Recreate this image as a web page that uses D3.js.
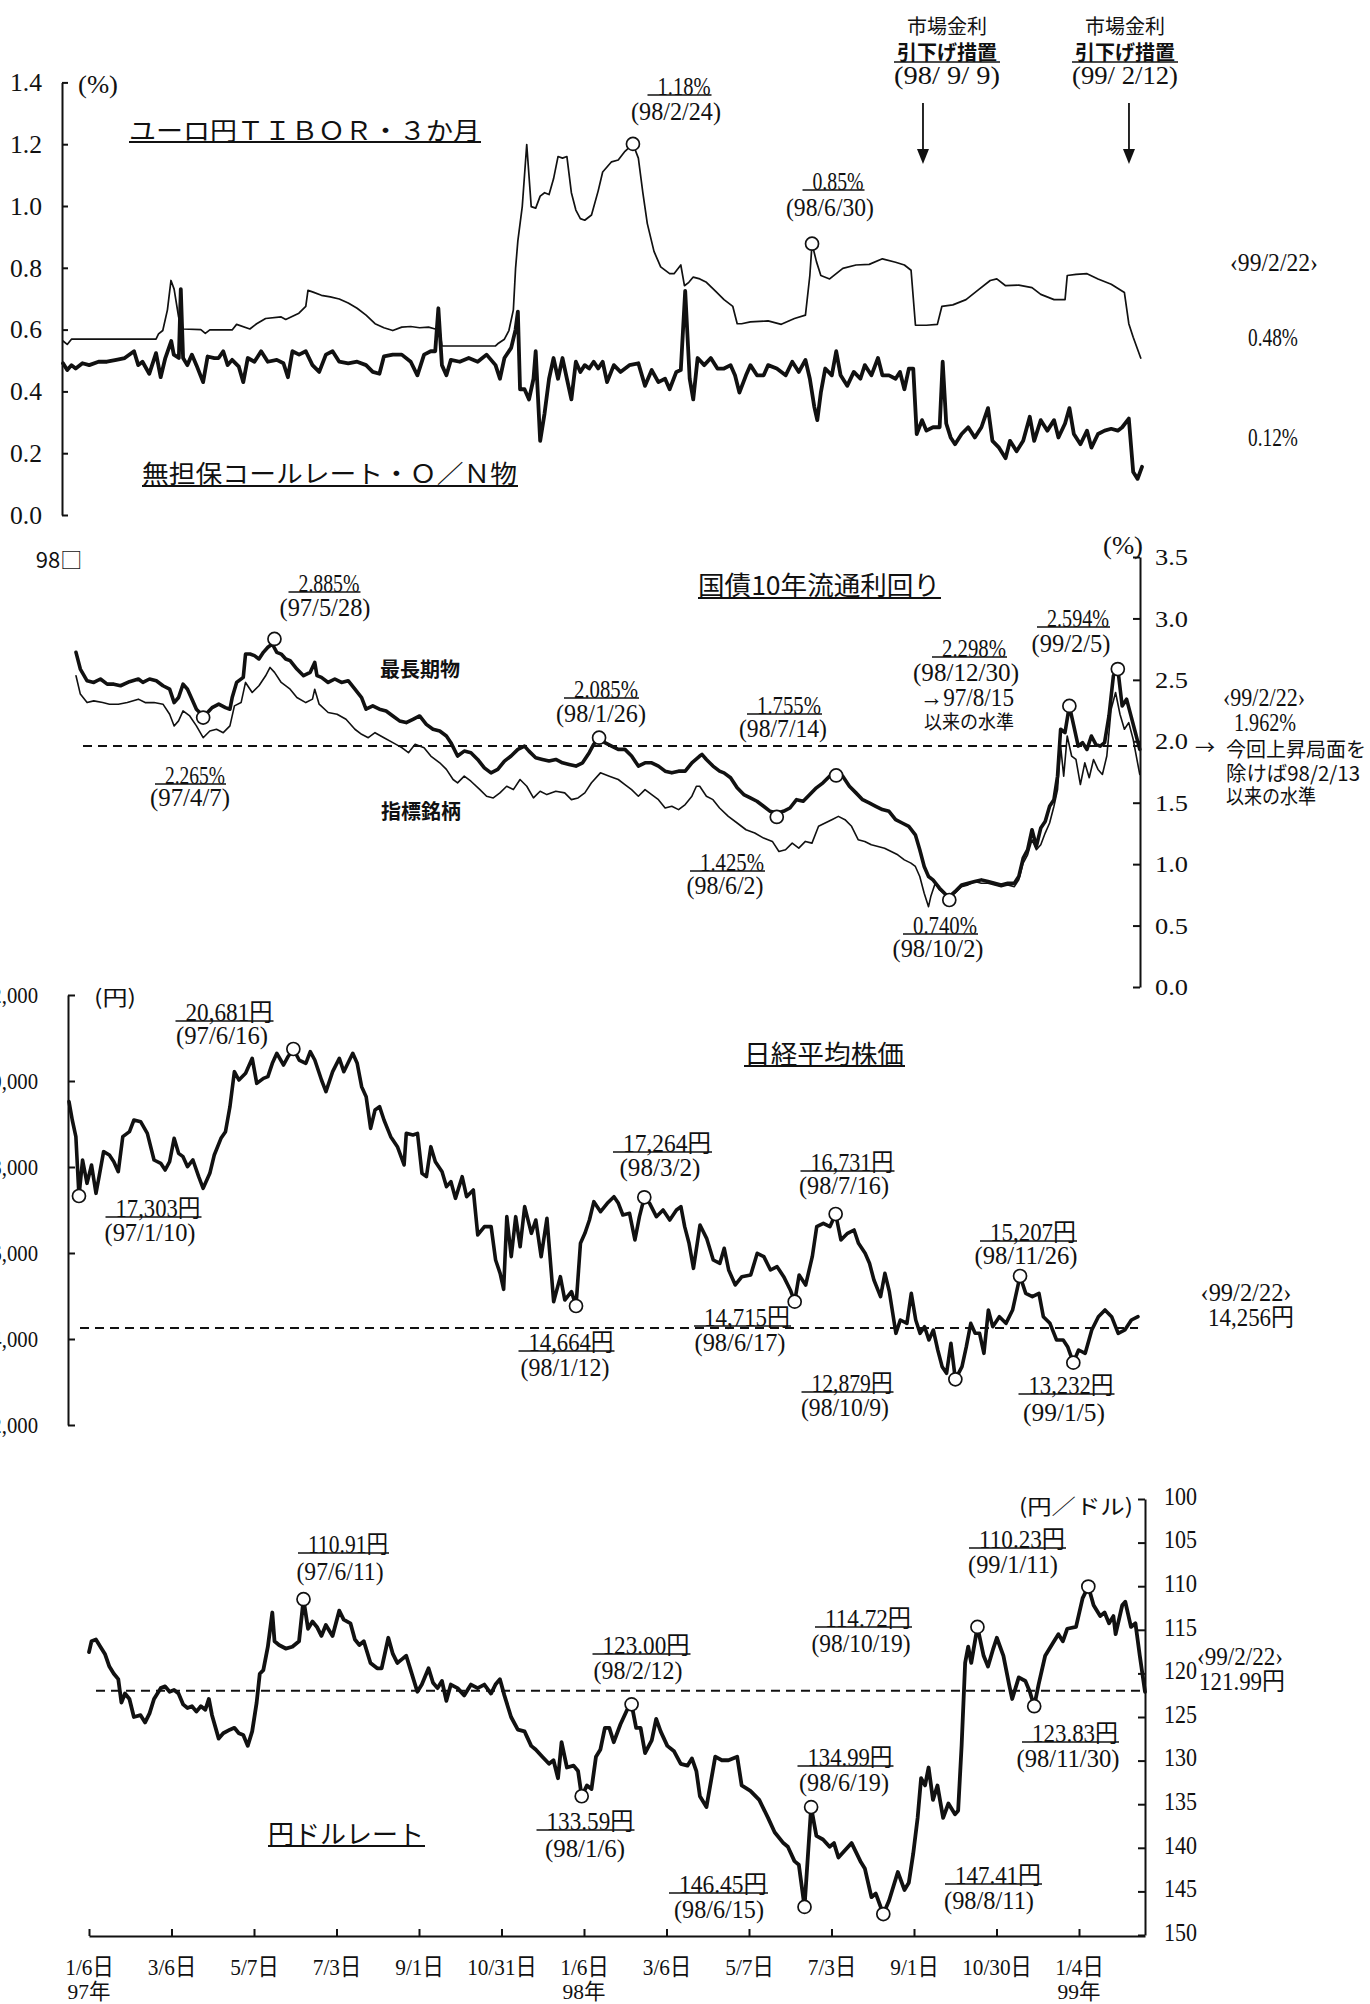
<!DOCTYPE html>
<html><head><meta charset="utf-8">
<script src="https://cdn.jsdelivr.net/npm/d3@7"></script>
<style>html,body{margin:0;padding:0;background:#fff;}svg{display:block;}</style>
</head><body>
<svg id="chart" width="1370" height="2004"></svg>
<script>
// ===== DATA (t = position on the chart's time axis, in 2-month tick steps from 97/1/6) =====
const tickLabels = ["1/6日","3/6日","5/7日","7/3日","9/1日","10/31日","1/6日","3/6日","5/7日","7/3日","9/1日","10/30日","1/4日"];
const tickPeriods = [0,1,2,3,4,5,6,7,8,9,10,11,12];
const yearLabels = [{t:0,s:"97年"},{t:6,s:"98年"},{t:12,s:"99年"}];

const tiborData = [[0,0.563],[0.05,0.552],[0.1,0.569],[1.1,0.569],[1.13,0.586],[1.18,0.597],[1.235,0.664],[1.277,0.759],[1.314,0.731],[1.367,0.641],[1.42,0.602],[1.63,0.6],[1.683,0.588],[1.736,0.599],[2.0,0.599],[2.053,0.617],[2.21,0.602],[2.29,0.619],[2.396,0.636],[2.58,0.641],[2.634,0.633],[2.79,0.653],[2.871,0.675],[2.897,0.727],[2.95,0.722],[3.056,0.711],[3.161,0.706],[3.267,0.699],[3.373,0.686],[3.478,0.669],[3.584,0.647],[3.69,0.619],[3.795,0.606],[3.9,0.597],[4.006,0.608],[4.112,0.61],[4.217,0.606],[4.323,0.608],[4.402,0.602],[4.455,0.6],[4.481,0.547],[4.534,0.547],[5.115,0.547],[5.141,0.554],[5.22,0.569],[5.273,0.597],[5.326,0.664],[5.352,0.798],[5.379,0.887],[5.431,0.998],[5.484,1.199],[5.537,0.998],[5.59,0.993],[5.643,1.032],[5.695,1.043],[5.748,1.037],[5.801,1.088],[5.854,1.16],[5.907,1.155],[5.959,1.16],[6.012,1.043],[6.065,0.987],[6.118,0.959],[6.17,0.954],[6.25,0.971],[6.329,1.049],[6.382,1.11],[6.487,1.143],[6.566,1.149],[6.646,1.177],[6.74,1.201],[6.804,1.155],[6.857,1.043],[6.91,0.943],[6.989,0.853],[7.068,0.803],[7.174,0.781],[7.226,0.781],[7.306,0.809],[7.349,0.742],[7.401,0.753],[7.453,0.77],[7.531,0.764],[7.609,0.753],[7.713,0.725],[7.817,0.697],[7.921,0.675],[7.973,0.619],[8.025,0.619],[8.129,0.625],[8.338,0.628],[8.494,0.617],[8.65,0.636],[8.78,0.647],[8.832,0.775],[8.858,0.878],[8.91,0.82],[8.962,0.775],[9.066,0.764],[9.222,0.798],[9.378,0.809],[9.534,0.811],[9.69,0.829],[9.846,0.818],[9.95,0.809],[10.029,0.792],[10.081,0.614],[10.21,0.614],[10.34,0.617],[10.393,0.675],[10.523,0.68],[10.679,0.697],[10.835,0.731],[10.965,0.759],[11.043,0.764],[11.147,0.742],[11.303,0.744],[11.459,0.736],[11.563,0.714],[11.72,0.697],[11.85,0.697],[11.876,0.775],[11.98,0.779],[12.11,0.781],[12.24,0.764],[12.396,0.747],[12.552,0.72],[12.604,0.619],[12.656,0.575],[12.745,0.508]];

const callData = [[0,0.491],[0.05,0.469],[0.1,0.485],[0.15,0.474],[0.23,0.491],[0.31,0.485],[0.42,0.496],[0.52,0.496],[0.63,0.502],[0.73,0.508],[0.84,0.53],[0.89,0.485],[0.94,0.496],[1.02,0.457],[1.1,0.524],[1.155,0.446],[1.21,0.508],[1.28,0.563],[1.31,0.519],[1.37,0.508],[1.393,0.731],[1.42,0.508],[1.47,0.485],[1.525,0.519],[1.578,0.485],[1.657,0.43],[1.71,0.513],[1.79,0.508],[1.84,0.508],[1.895,0.53],[1.947,0.485],[2.0,0.502],[2.079,0.48],[2.132,0.43],[2.185,0.508],[2.264,0.496],[2.343,0.53],[2.422,0.496],[2.528,0.502],[2.607,0.491],[2.66,0.446],[2.713,0.53],[2.792,0.519],[2.871,0.53],[2.95,0.485],[3.03,0.463],[3.109,0.519],[3.188,0.53],[3.267,0.496],[3.373,0.491],[3.478,0.496],[3.584,0.485],[3.663,0.463],[3.742,0.457],[3.795,0.513],[3.9,0.519],[4.006,0.519],[4.112,0.496],[4.191,0.452],[4.27,0.519],[4.349,0.53],[4.402,0.53],[4.439,0.669],[4.481,0.485],[4.534,0.452],[4.587,0.502],[4.692,0.496],[4.798,0.508],[4.904,0.496],[5.009,0.519],[5.115,0.485],[5.167,0.441],[5.22,0.508],[5.3,0.541],[5.352,0.6],[5.379,0.658],[5.405,0.407],[5.458,0.407],[5.511,0.374],[5.564,0.441],[5.59,0.53],[5.643,0.24],[5.695,0.329],[5.748,0.441],[5.801,0.508],[5.854,0.441],[5.907,0.508],[5.959,0.441],[6.012,0.374],[6.065,0.496],[6.118,0.463],[6.17,0.485],[6.223,0.474],[6.276,0.496],[6.329,0.474],[6.382,0.496],[6.434,0.43],[6.514,0.485],[6.593,0.463],[6.698,0.485],[6.804,0.491],[6.883,0.418],[6.962,0.469],[7.041,0.43],[7.12,0.441],[7.174,0.407],[7.253,0.463],[7.306,0.469],[7.358,0.725],[7.411,0.441],[7.453,0.374],[7.505,0.508],[7.583,0.485],[7.661,0.508],[7.739,0.474],[7.817,0.474],[7.895,0.485],[7.947,0.452],[7.999,0.396],[8.077,0.452],[8.129,0.485],[8.207,0.452],[8.286,0.452],[8.338,0.485],[8.441,0.474],[8.546,0.452],[8.624,0.496],[8.702,0.463],[8.78,0.502],[8.832,0.441],[8.884,0.351],[8.92,0.307],[8.962,0.396],[9.014,0.474],[9.092,0.452],[9.144,0.53],[9.196,0.452],[9.274,0.418],[9.352,0.463],[9.43,0.441],[9.482,0.485],[9.56,0.452],[9.638,0.508],[9.69,0.452],[9.768,0.452],[9.846,0.441],[9.898,0.463],[9.95,0.407],[10.003,0.474],[10.055,0.474],[10.096,0.262],[10.159,0.307],[10.21,0.273],[10.289,0.284],[10.367,0.284],[10.403,0.496],[10.445,0.296],[10.497,0.251],[10.549,0.229],[10.627,0.262],[10.705,0.284],[10.783,0.251],[10.861,0.284],[10.939,0.346],[10.991,0.24],[11.069,0.218],[11.147,0.184],[11.199,0.24],[11.277,0.206],[11.355,0.24],[11.433,0.318],[11.485,0.24],[11.563,0.307],[11.641,0.273],[11.72,0.307],[11.772,0.251],[11.85,0.296],[11.902,0.346],[11.954,0.262],[12.032,0.229],[12.11,0.273],[12.162,0.218],[12.24,0.262],[12.318,0.273],[12.396,0.279],[12.474,0.273],[12.526,0.284],[12.604,0.312],[12.656,0.139],[12.708,0.117],[12.76,0.156]];

const jgbLongData = [[0,2.724],[0.052,2.588],[0.133,2.492],[0.213,2.479],[0.293,2.507],[0.374,2.465],[0.454,2.465],[0.534,2.452],[0.641,2.485],[0.748,2.507],[0.802,2.479],[0.882,2.507],[0.963,2.493],[1.043,2.452],[1.123,2.424],[1.177,2.315],[1.23,2.356],[1.284,2.465],[1.337,2.424],[1.391,2.343],[1.444,2.261],[1.525,2.206],[1.578,2.234],[1.632,2.274],[1.712,2.302],[1.792,2.274],[1.846,2.261],[1.873,2.356],[1.926,2.479],[2.006,2.52],[2.033,2.71],[2.087,2.71],[2.14,2.697],[2.194,2.67],[2.247,2.724],[2.301,2.765],[2.354,2.792],[2.408,2.724],[2.461,2.71],[2.515,2.67],[2.568,2.656],[2.649,2.588],[2.729,2.534],[2.809,2.561],[2.863,2.642],[2.89,2.534],[2.943,2.52],[3.024,2.479],[3.104,2.507],[3.184,2.479],[3.264,2.493],[3.345,2.424],[3.425,2.356],[3.478,2.261],[3.559,2.288],[3.639,2.261],[3.719,2.247],[3.8,2.206],[3.88,2.166],[3.96,2.152],[4.041,2.179],[4.121,2.206],[4.201,2.138],[4.281,2.098],[4.362,2.084],[4.442,2.043],[4.496,1.989],[4.576,1.88],[4.656,1.92],[4.736,1.907],[4.817,1.852],[4.897,1.784],[4.977,1.743],[5.058,1.771],[5.138,1.839],[5.218,1.88],[5.299,1.934],[5.379,1.961],[5.432,1.92],[5.513,1.866],[5.593,1.852],[5.673,1.839],[5.754,1.852],[5.834,1.825],[5.914,1.811],[5.995,1.798],[6.075,1.825],[6.155,1.907],[6.208,1.975],[6.273,2.029],[6.342,1.989],[6.423,1.961],[6.503,1.934],[6.583,1.934],[6.663,1.88],[6.744,1.798],[6.824,1.825],[6.904,1.825],[6.985,1.798],[7.065,1.757],[7.145,1.743],[7.226,1.757],[7.306,1.757],[7.386,1.825],[7.48,1.88],[7.507,1.893],[7.56,1.852],[7.639,1.798],[7.718,1.757],[7.771,1.743],[7.85,1.703],[7.929,1.621],[8.008,1.566],[8.087,1.539],[8.166,1.512],[8.246,1.471],[8.325,1.43],[8.404,1.417],[8.483,1.43],[8.562,1.457],[8.641,1.525],[8.721,1.512],[8.8,1.566],[8.879,1.621],[8.958,1.662],[9.037,1.716],[9.116,1.743],[9.195,1.716],[9.275,1.634],[9.354,1.58],[9.433,1.525],[9.512,1.498],[9.591,1.471],[9.67,1.444],[9.75,1.43],[9.829,1.362],[9.908,1.335],[9.987,1.308],[10.066,1.239],[10.119,1.117],[10.172,0.981],[10.224,0.899],[10.277,0.872],[10.356,0.804],[10.436,0.749],[10.473,0.736],[10.541,0.776],[10.62,0.831],[10.699,0.844],[10.779,0.858],[10.858,0.872],[10.937,0.858],[11.016,0.844],[11.095,0.831],[11.174,0.844],[11.253,0.844],[11.306,0.899],[11.359,1.049],[11.412,1.117],[11.465,1.28],[11.517,1.144],[11.57,1.294],[11.623,1.348],[11.676,1.471],[11.728,1.525],[11.771,1.716],[11.808,2.098],[11.86,2.07],[11.913,2.288],[11.966,2.125],[12.019,1.961],[12.071,1.989],[12.124,1.934],[12.177,2.043],[12.23,1.975],[12.283,1.961],[12.335,1.989],[12.388,2.207],[12.441,2.533],[12.494,2.588],[12.546,2.288],[12.599,2.343],[12.652,2.207],[12.705,2.07],[12.757,1.934]];

const jgbBenchData = [[0,2.533],[0.052,2.384],[0.133,2.315],[0.213,2.329],[0.32,2.315],[0.401,2.302],[0.508,2.302],[0.615,2.315],[0.748,2.343],[0.829,2.315],[0.936,2.315],[1.043,2.302],[1.123,2.22],[1.177,2.125],[1.23,2.166],[1.284,2.247],[1.364,2.206],[1.444,2.125],[1.525,2.029],[1.605,2.084],[1.685,2.098],[1.766,2.07],[1.846,2.125],[1.9,2.288],[1.98,2.315],[2.033,2.479],[2.113,2.397],[2.194,2.452],[2.274,2.533],[2.327,2.601],[2.381,2.561],[2.461,2.479],[2.568,2.424],[2.649,2.356],[2.756,2.315],[2.836,2.343],[2.863,2.424],[2.916,2.302],[3.024,2.234],[3.131,2.22],[3.238,2.179],[3.345,2.098],[3.425,2.057],[3.505,2.029],[3.586,2.07],[3.693,2.029],[3.8,1.989],[3.907,1.948],[3.987,1.907],[4.067,1.975],[4.174,1.948],[4.255,1.88],[4.362,1.825],[4.442,1.771],[4.522,1.689],[4.576,1.662],[4.656,1.716],[4.736,1.675],[4.844,1.607],[4.924,1.553],[5.004,1.539],[5.084,1.58],[5.165,1.634],[5.245,1.607],[5.325,1.689],[5.406,1.634],[5.486,1.539],[5.566,1.593],[5.647,1.566],[5.754,1.593],[5.861,1.58],[5.941,1.525],[6.021,1.539],[6.102,1.58],[6.182,1.662],[6.289,1.743],[6.396,1.716],[6.503,1.689],[6.583,1.648],[6.663,1.607],[6.744,1.553],[6.824,1.607],[6.904,1.566],[6.985,1.525],[7.065,1.457],[7.145,1.471],[7.226,1.444],[7.306,1.485],[7.386,1.553],[7.44,1.634],[7.48,1.634],[7.56,1.553],[7.639,1.525],[7.718,1.457],[7.823,1.389],[7.929,1.335],[8.035,1.28],[8.14,1.253],[8.246,1.212],[8.351,1.185],[8.43,1.103],[8.509,1.117],[8.589,1.171],[8.668,1.13],[8.747,1.185],[8.826,1.171],[8.905,1.308],[8.984,1.335],[9.064,1.362],[9.143,1.389],[9.222,1.362],[9.301,1.308],[9.38,1.199],[9.459,1.185],[9.538,1.158],[9.618,1.144],[9.697,1.13],[9.776,1.103],[9.855,1.076],[9.934,1.035],[10.013,1.008],[10.066,0.981],[10.119,0.899],[10.172,0.763],[10.224,0.654],[10.251,0.736],[10.304,0.844],[10.356,0.79],[10.409,0.763],[10.473,0.736],[10.541,0.763],[10.62,0.817],[10.699,0.831],[10.779,0.858],[10.858,0.844],[10.937,0.844],[11.016,0.831],[11.095,0.817],[11.174,0.831],[11.253,0.817],[11.306,0.872],[11.359,1.008],[11.412,1.076],[11.465,1.199],[11.517,1.117],[11.57,1.158],[11.623,1.253],[11.676,1.335],[11.728,1.471],[11.771,1.607],[11.808,1.961],[11.845,1.716],[11.887,2.043],[11.94,1.88],[11.992,1.852],[12.045,1.648],[12.098,1.825],[12.151,1.703],[12.203,1.852],[12.256,1.771],[12.309,1.73],[12.362,1.88],[12.414,2.261],[12.467,2.397],[12.52,2.22],[12.573,2.098],[12.625,2.152],[12.678,2.016],[12.731,1.825],[12.757,1.73]];

const nikkeiData = [[0,19520],[0.039,19093],[0.082,18706],[0.119,17326],[0.162,18163],[0.215,17620],[0.269,18047],[0.322,17388],[0.359,17775],[0.413,18357],[0.482,18279],[0.535,18124],[0.588,17891],[0.642,18706],[0.722,18822],[0.775,19093],[0.855,19054],[0.935,18783],[1.015,18163],[1.095,18085],[1.148,17930],[1.201,18124],[1.255,18667],[1.308,18318],[1.361,18240],[1.415,18008],[1.479,18163],[1.548,17775],[1.601,17504],[1.681,17853],[1.734,18279],[1.814,18667],[1.868,18822],[1.921,19403],[1.974,20217],[2.028,20023],[2.108,20178],[2.187,20527],[2.241,19946],[2.321,20062],[2.374,20101],[2.427,20411],[2.481,20644],[2.561,20372],[2.614,20566],[2.678,20744],[2.747,20488],[2.827,20411],[2.88,20682],[2.934,20488],[3.014,20023],[3.067,19752],[3.147,20217],[3.227,20527],[3.28,20217],[3.387,20644],[3.44,20411],[3.493,19868],[3.547,19636],[3.6,18899],[3.653,19326],[3.707,19403],[3.76,19093],[3.84,18706],[3.92,18473],[4.0,18047],[4.026,18783],[4.106,18744],[4.16,18783],[4.213,17853],[4.266,17775],[4.319,18473],[4.373,18124],[4.453,17891],[4.506,17543],[4.559,17659],[4.613,17271],[4.693,17775],[4.746,17310],[4.826,17465],[4.879,16419],[4.959,16613],[5.039,16613],[5.092,15837],[5.146,15527],[5.188,15155],[5.226,16845],[5.279,15915],[5.332,16845],[5.385,16147],[5.439,17078],[5.519,16457],[5.572,16767],[5.636,15915],[5.705,16806],[5.785,14868],[5.865,15450],[5.918,14907],[5.998,15101],[6.052,14768],[6.105,16225],[6.158,16457],[6.212,16767],[6.265,17194],[6.345,16961],[6.425,17155],[6.505,17310],[6.558,17155],[6.611,16884],[6.691,16922],[6.755,16302],[6.809,16845],[6.867,17295],[6.931,17155],[7.011,16845],[7.091,17000],[7.171,16767],[7.251,17000],[7.304,17078],[7.349,16613],[7.401,16225],[7.454,15643],[7.532,16651],[7.611,16341],[7.69,15837],[7.769,15760],[7.821,16109],[7.874,15605],[7.953,15256],[8.032,15450],[8.137,15488],[8.215,15992],[8.294,15915],[8.373,15605],[8.452,15682],[8.531,15450],[8.61,15140],[8.662,14868],[8.715,15488],[8.793,15256],[8.872,15915],[8.925,16613],[9.004,16690],[9.082,16613],[9.151,16907],[9.214,16302],[9.293,16457],[9.371,16535],[9.424,16225],[9.503,15992],[9.555,15760],[9.608,15372],[9.687,14985],[9.739,15527],[9.792,15101],[9.87,14132],[9.923,14442],[10.002,14364],[10.054,15062],[10.107,14442],[10.159,14132],[10.212,14287],[10.264,13977],[10.317,14209],[10.37,13744],[10.422,13357],[10.475,13202],[10.527,13899],[10.58,13062],[10.659,13357],[10.711,13822],[10.764,14364],[10.816,14132],[10.869,14132],[10.921,13667],[10.974,14674],[11.026,14287],[11.105,14519],[11.184,14364],[11.263,14674],[11.352,15465],[11.42,15062],[11.499,14985],[11.578,15062],[11.63,14519],[11.709,14364],[11.788,13977],[11.867,13977],[11.92,13822],[11.988,13450],[12.051,13744],[12.13,13667],[12.208,14209],[12.287,14519],[12.366,14674],[12.445,14519],[12.524,14132],[12.603,14209],[12.681,14442],[12.76,14519]];

const yenData = [[0,117.56],[0.03,116.32],[0.084,116.12],[0.138,116.94],[0.193,117.77],[0.247,119.21],[0.301,120.04],[0.355,120.66],[0.393,123.35],[0.436,122.31],[0.49,122.93],[0.544,125.0],[0.625,124.79],[0.68,125.62],[0.734,124.59],[0.788,122.93],[0.869,121.69],[0.923,121.49],[0.977,122.11],[1.031,121.9],[1.085,122.31],[1.14,123.55],[1.194,123.97],[1.248,123.76],[1.302,124.38],[1.356,123.76],[1.41,124.17],[1.453,122.93],[1.491,124.79],[1.572,127.48],[1.627,126.86],[1.708,126.45],[1.762,126.24],[1.816,126.86],[1.87,127.07],[1.924,128.31],[1.978,126.65],[2.032,123.35],[2.07,120.04],[2.113,119.63],[2.168,116.94],[2.222,113.02],[2.249,116.32],[2.303,116.74],[2.384,117.15],[2.465,116.94],[2.546,116.32],[2.6,111.49],[2.655,114.88],[2.709,114.05],[2.763,114.67],[2.817,115.7],[2.871,114.46],[2.952,115.7],[3.033,112.81],[3.087,113.84],[3.169,114.26],[3.223,116.12],[3.277,116.74],[3.331,116.32],[3.412,118.8],[3.493,119.42],[3.547,119.42],[3.628,115.91],[3.683,117.77],[3.737,118.8],[3.791,118.39],[3.845,117.98],[3.899,119.63],[3.98,122.11],[4.034,121.28],[4.116,119.42],[4.17,121.07],[4.224,121.69],[4.278,120.87],[4.332,123.14],[4.386,121.28],[4.467,121.69],[4.548,122.52],[4.63,121.28],[4.711,121.69],[4.792,121.28],[4.873,122.31],[4.927,121.28],[4.981,120.66],[5.035,122.52],[5.116,125.0],[5.198,126.45],[5.279,126.65],[5.36,128.31],[5.414,128.72],[5.495,129.55],[5.576,130.37],[5.63,129.96],[5.685,132.02],[5.728,127.89],[5.793,130.79],[5.874,130.58],[5.928,131.2],[5.972,134.09],[6.036,132.85],[6.091,133.26],[6.145,129.55],[6.199,128.72],[6.253,126.24],[6.307,126.24],[6.361,127.89],[6.442,125.83],[6.523,124.17],[6.577,123.55],[6.632,126.24],[6.686,126.24],[6.74,129.13],[6.821,127.69],[6.875,125.21],[6.929,126.65],[7.01,128.31],[7.092,128.93],[7.173,130.37],[7.254,130.58],[7.308,129.75],[7.362,131.2],[7.405,134.09],[7.484,135.33],[7.591,129.55],[7.671,129.96],[7.751,129.96],[7.857,129.55],[7.911,132.85],[8.017,133.47],[8.124,134.5],[8.231,136.57],[8.311,138.22],[8.417,139.46],[8.471,139.88],[8.551,141.53],[8.604,141.94],[8.673,146.78],[8.753,135.33],[8.817,138.64],[8.897,139.05],[8.977,139.88],[9.03,139.46],[9.084,141.12],[9.244,139.46],[9.35,141.53],[9.404,142.36],[9.484,145.66],[9.537,145.25],[9.628,147.6],[9.697,146.07],[9.804,142.77],[9.884,144.83],[9.937,144.01],[9.99,140.7],[10.044,136.57],[10.086,132.02],[10.134,132.85],[10.177,130.79],[10.23,134.5],[10.284,132.85],[10.353,136.57],[10.417,134.92],[10.497,136.16],[10.535,135.74],[10.577,128.31],[10.62,118.8],[10.657,116.94],[10.694,118.8],[10.769,114.67],[10.844,117.98],[10.897,119.21],[10.961,117.15],[11.004,115.91],[11.084,117.98],[11.153,121.28],[11.19,122.93],[11.27,120.45],[11.35,120.87],[11.404,122.11],[11.457,123.76],[11.51,121.28],[11.59,117.98],[11.697,116.32],[11.75,115.5],[11.804,116.32],[11.857,114.88],[11.964,114.67],[12.044,111.36],[12.113,110.04],[12.177,112.19],[12.257,113.43],[12.31,113.02],[12.364,114.26],[12.417,113.43],[12.444,115.5],[12.524,112.19],[12.561,111.78],[12.63,114.67],[12.684,114.26],[12.737,117.98],[12.8,122.11]];

const tiborMarks = [{t:6.74,v:1.201,value:"1.18%",date:"(98/2/24)"},{t:8.858,v:0.878,value:"0.85%",date:"(98/6/30)"}];
const jgbMarks = [{t:2.38,v:2.833,value:"2.885%",date:"(97/5/28)"},{t:1.525,v:2.193,value:"2.265%",date:"(97/4/7)"},{t:6.273,v:2.029,value:"2.085%",date:"(98/1/26)"},{t:8.404,v:1.384,value:"1.425%",date:"(98/6/2)"},{t:9.116,v:1.722,value:"1.755%",date:"(98/7/14)"},{t:10.473,v:0.708,value:"0.740%",date:"(98/10/2)"},{t:11.913,v:2.288,value:"2.298%",date:"(98/12/30)"},{t:12.494,v:2.588,value:"2.594%",date:"(99/2/5)"}];
const nikkeiMarks = [{t:0.119,v:17326,value:"17,303円",date:"(97/1/10)"},{t:2.678,v:20744,value:"20,681円",date:"(97/6/16)"},{t:6.052,v:14768,value:"14,664円",date:"(98/1/12)"},{t:6.867,v:17295,value:"17,264円",date:"(98/3/2)"},{t:8.662,v:14868,value:"14,715円",date:"(98/6/17)"},{t:9.151,v:16907,value:"16,731円",date:"(98/7/16)"},{t:10.58,v:13062,value:"12,879円",date:"(98/10/9)"},{t:11.352,v:15465,value:"15,207円",date:"(98/11/26)"},{t:11.988,v:13450,value:"13,232円",date:"(99/1/5)"}];
const yenMarks = [{t:2.6,v:111.49,value:"110.91円",date:"(97/6/11)"},{t:5.972,v:134.09,value:"133.59円",date:"(98/1/6)"},{t:6.577,v:123.55,value:"123.00円",date:"(98/2/12)"},{t:8.673,v:146.78,value:"146.45円",date:"(98/6/15)"},{t:8.753,v:135.33,value:"134.99円",date:"(98/6/19)"},{t:9.628,v:147.6,value:"147.41円",date:"(98/8/11)"},{t:10.769,v:114.67,value:"114.72円",date:"(98/10/19)"},{t:11.457,v:123.76,value:"123.83円",date:"(98/11/30)"},{t:12.113,v:110.04,value:"110.23円",date:"(99/1/11)"}];
const policyDates = [{t:10.17,date:"(98/ 9/ 9)"},{t:12.606,date:"(99/ 2/12)"}];
const latest = {date:"‹99/2/22›", tibor:"0.48%", call:"0.12%", jgb:1.962, jgbText:"1.962%", nikkei:14256, nikkeiText:"14,256円", yen:121.99, yenText:"121.99円"};

// ===== LAYOUT =====
const svg = d3.select("#chart");
const INK = "#111";
const NUM = "'Liberation Serif','Noto Sans CJK JP',serif";
const JP = "'Noto Sans CJK JP','Noto Sans',sans-serif";
const SQ = "spacingAndGlyphs";

const x1 = d3.scaleLinear().domain([0,12.76]).range([63,1142]);
const y1 = d3.scaleLinear().domain([0,1.4]).range([515,82.4]);
const x2 = d3.scaleLinear().domain([0,12.76]).range([76,1140]);
const y2 = d3.scaleLinear().domain([0,3.5]).range([987,557]);
const x3 = d3.scaleLinear().domain([0,12.76]).range([69,1138]);
const y3 = d3.scaleLinear().domain([12000,22000]).range([1425,995]);
const x4 = d3.scaleLinear().domain([0,12.8]).range([89,1145]);
const y4 = d3.scaleLinear().domain([100,150]).range([1499,1935]);

function T(x, y, s, o = {}) {
  const t = svg.append("text").attr("x", x).attr("y", y).text(s)
    .attr("font-family", o.font || NUM).attr("font-size", o.size || 25)
    .attr("text-anchor", o.anchor || "middle").attr("dominant-baseline", "central")
    .attr("fill", INK);
  if (o.w) t.attr("textLength", o.w).attr("lengthAdjust", o.adj || SQ);
  if (o.weight) t.attr("font-weight", o.weight);
  return t;
}
function U(xa, xb, y, w = 1.5) {
  svg.append("line").attr("x1", xa).attr("x2", xb).attr("y1", y).attr("y2", y)
    .attr("stroke", INK).attr("stroke-width", w);
}
function styleAxis(g, size, widthOf) {
  g.attr("color", INK);
  g.select(".domain").attr("stroke-width", 2);
  g.selectAll(".tick line").attr("stroke-width", 2);
  g.selectAll(".tick text").attr("font-family", NUM).attr("font-size", size)
    .each(function () {
      const s = d3.select(this);
      if (widthOf) s.attr("textLength", widthOf(s.text())).attr("lengthAdjust", SQ);
    });
}
function series(data, xs, ys, width) {
  svg.append("path").datum(data)
    .attr("d", d3.line().x(d => xs(d[0])).y(d => ys(d[1])))
    .attr("fill", "none").attr("stroke", INK).attr("stroke-width", width)
    .attr("stroke-linejoin", "round").attr("stroke-linecap", "round");
}
function dashed(v, xa, xb, ys) {
  svg.append("line").attr("x1", xa).attr("x2", xb).attr("y1", ys(v)).attr("y2", ys(v))
    .attr("stroke", INK).attr("stroke-width", 2).attr("stroke-dasharray", "9,6");
}
function marks(list, xs, ys, pos) {
  svg.append("g").selectAll("circle").data(list).join("circle")
    .attr("cx", d => xs(d.t)).attr("cy", d => ys(d.v)).attr("r", 6.5)
    .attr("fill", "#fff").attr("stroke", INK).attr("stroke-width", 1.7);
  list.forEach((d, i) => {
    const p = pos[i];
    T(p[0], p[1], d.value, {w: p[2]});
    U(p[0] - p[2] / 2 - 10, p[0] + p[2] / 2 + 1, p[1] + 9);
    T(p[3], p[4], d.date, {w: p[5]});
  });
}
const halfW = s => s.replace(/[日年円]/g, "").length * 10.5 + (s.match(/[日年円]/g) || []).length * 17;

// ---------- Panel 1 : TIBOR / call ----------
const ax1 = svg.append("g").attr("transform", "translate(62,0)")
  .call(d3.axisLeft(y1).tickValues([0,0.2,0.4,0.6,0.8,1.0,1.2,1.4]).tickFormat(d3.format(".1f"))
    .tickSizeInner(-6).tickSizeOuter(0).tickPadding(20));
styleAxis(ax1, 26, () => 32);
T(98, 84, "(%)", {size: 25, w: 40});
T(304.5, 129, "ユーロ円ＴＩＢＯＲ・３か月", {font: JP, size: 25, w: 351});
U(129, 481, 142, 1.8);
T(329.5, 472, "無担保コールレート・Ｏ／Ｎ物", {font: JP, size: 25, w: 375});
U(142, 518, 486, 1.8);
series(tiborData, x1, y1, 1.7);
series(callData, x1, y1, 3.8);
marks(tiborMarks, x1, y1, [[684,86,53,676,111,90],[838,181,51,830,207,88]]);
const policyText = [947, 1125];
policyDates.forEach((d, i) => {
  const ax = x1(d.t), cx = policyText[i];
  T(cx, 25, "市場金利", {font: JP, size: 20});
  T(cx, 51, "引下げ措置", {font: JP, size: 20, weight: 700});
  U(cx - 53, cx + 53, 62, 1.6);
  T(cx, 75, d.date, {w: 106});
  svg.append("line").attr("x1", ax).attr("x2", ax).attr("y1", 103).attr("y2", 152)
    .attr("stroke", INK).attr("stroke-width", 1.8);
  svg.append("path").attr("d", `M${ax - 6},149L${ax + 6},149L${ax},164Z`).attr("fill", INK);
});
T(1274, 262, latest.date, {w: 88});
T(1273, 337, latest.tibor, {w: 50});
T(1273, 437, latest.call, {w: 50});

// ---------- Panel 2 : JGB ----------
const ax2 = svg.append("g").attr("transform", "translate(1140,0)")
  .call(d3.axisRight(y2).tickValues([0,0.5,1,1.5,2,2.5,3,3.5]).tickFormat(d3.format(".1f"))
    .tickSizeInner(-7).tickSizeOuter(0).tickPadding(15));
styleAxis(ax2, 24, () => 33);
T(1123, 545, "(%)", {size: 25, w: 40});
T(59, 558, "98□", {font: JP, size: 22});
T(819, 583, "国債10年流通利回り", {font: JP, size: 26, w: 242});
U(698, 941, 598, 1.8);
dashed(latest.jgb, 83, 1140, y2);
series(jgbBenchData, x2, y2, 1.6);
series(jgbLongData, x2, y2, 3.6);
T(420, 668, "最長期物", {font: JP, size: 20, weight: 700});
T(421, 810, "指標銘柄", {font: JP, size: 20, weight: 700});
marks(jgbMarks, x2, y2, [
  [329,583,61,325,607,91],[195,775,60,190,797,80],[606,689,64,601,713,90],[732,862,64,725,885,77],
  [789,705,64,783,728,88],[945,925,64,938,948,91],[974,648,64,966,672,106],[1078,618,62,1071,643,79]]);
T(967, 697, "→97/8/15", {w: 94});
T(969, 720, "以来の水準", {font: JP, size: 19, w: 90});
T(1205, 746, "→", {font: JP, size: 20});
T(1264, 697, latest.date, {w: 82});
T(1265, 722, latest.jgbText, {w: 62});
T(1226, 748, "今回上昇局面を", {font: JP, size: 20, anchor: "start", w: 140});
T(1226, 772, "除けば98/2/13", {font: JP, size: 20, anchor: "start", w: 134});
T(1226, 795, "以来の水準", {font: JP, size: 20, anchor: "start", w: 90});

// ---------- Panel 3 : Nikkei ----------
const ax3 = svg.append("g").attr("transform", "translate(68,0)")
  .call(d3.axisLeft(y3).tickValues([12000,14000,16000,18000,20000,22000]).tickFormat(d3.format(","))
    .tickSizeInner(-7).tickSizeOuter(0).tickPadding(30));
styleAxis(ax3, 23, () => 57);
T(115, 996, "(円)", {font: JP, size: 21, w: 42});
T(824, 1052, "日経平均株価", {font: JP, size: 26, w: 160});
U(744, 905, 1066, 1.8);
dashed(latest.nikkei, 80, 1138, y3);
series(nikkeiData, x3, y3, 3.6);
marks(nikkeiMarks, x3, y3, [
  [158,1208,85,150,1232,91],[229,1012,87,222,1035,92],[571,1342,85,565,1367,89],[667,1143,88,660,1167,81],
  [747,1317,86,740,1342,91],[852,1162,83,844,1185,90],[852,1383,81,845,1407,88],[1033,1232,86,1026,1255,103],
  [1071,1385,85,1064,1412,82]]);
T(1246, 1292, latest.date, {w: 91});
T(1251, 1317, latest.nikkeiText, {w: 86});

// ---------- Panel 4 : Yen / Dollar ----------
const ax4 = svg.append("g").attr("transform", "translate(1145,0)")
  .call(d3.axisRight(y4).tickValues(d3.range(100, 151, 5))
    .tickSizeInner(-7).tickSizeOuter(0).tickPadding(19));
styleAxis(ax4, 26, () => 33);
ax4.selectAll(".tick text").attr("y", -3);
const axb = svg.append("g").attr("transform", "translate(0,1936)")
  .call(d3.axisBottom(x4).tickValues(tickPeriods).tickFormat((d, i) => tickLabels[i])
    .tickSizeInner(-7).tickSizeOuter(0).tickPadding(22));
styleAxis(axb, 24, halfW);
yearLabels.forEach(d => T(x4(d.t), 1991, d.s, {size: 22, w: 43}));
T(1076, 1505, "(円／ドル)", {font: JP, size: 21, w: 114});
T(346, 1832, "円ドルレート", {font: JP, size: 26, w: 156});
U(268, 425, 1846, 1.8);
dashed(latest.yen, 96, 1145, y4);
series(yenData, x4, y4, 3.8);
marks(yenMarks, x4, y4, [
  [348,1544,80,340,1571,87],[590,1821,87,585,1848,80],[646,1645,87,638,1670,89],[723,1884,88,719,1909,90],
  [850,1757,85,844,1782,90],[998,1875,86,989,1900,90],[868,1618,86,861,1643,99],[1075,1733,86,1068,1758,103],
  [1022,1539,86,1013,1564,90]]);
T(1240, 1656, latest.date, {w: 86});
T(1242, 1681, latest.yenText, {w: 86});
</script>
</body></html>
